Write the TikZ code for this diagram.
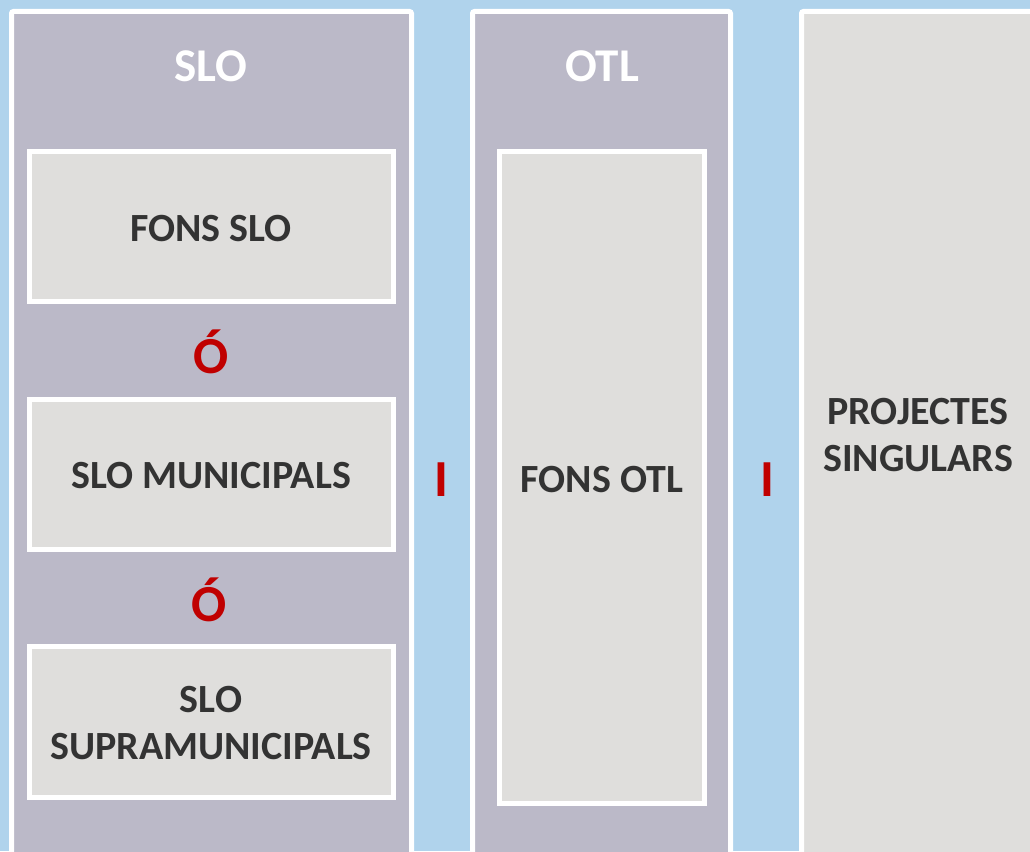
\documentclass[tikz,border=0pt]{standalone}
\usepackage{fontspec}
\setmainfont{Carlito}
\definecolor{bgblue}{HTML}{B0D3EC}
\definecolor{colpurple}{HTML}{BBB9C8}
\definecolor{boxgray}{HTML}{DFDEDC}
\definecolor{txtdark}{HTML}{333333}
\definecolor{redtxt}{HTML}{C00000}
\begin{document}
\begin{tikzpicture}[x=1pt,y=-1pt,
  colbox/.style={draw=white, line width=5pt, fill=colpurple, rounded corners=2pt, inner sep=0pt, anchor=center},
  sidebox/.style={draw=white, line width=5pt, fill=boxgray, rounded corners=2pt, inner sep=0pt, anchor=center},
  innerbox/.style={draw=white, line width=5pt, fill=boxgray, inner sep=0pt, anchor=center},
  titletxt/.style={text=white, font=\bfseries\fontsize{47}{52}\selectfont, inner sep=0pt},
  boxtxt/.style={text=txtdark, font=\bfseries\fontsize{40}{47}\selectfont, inner sep=0pt, align=center},
  redop/.style={text=redtxt, font=\bfseries\fontsize{52}{56}\selectfont, inner sep=0pt}]
\useasboundingbox (0,0) rectangle (1030,851);
\clip (0,0) rectangle (1030,851);
\fill[bgblue] (0,0) rectangle (1030,851);
\node[colbox, minimum width=400pt, minimum height=888.5pt] (slo) at (211.5,455.75) {};
\node[colbox, minimum width=258pt, minimum height=888.5pt] (otl) at (601.5,455.75) {};
\node[sidebox, minimum width=298.5pt, minimum height=888.5pt] (proj) at (950.75,455.75) {};
\node[innerbox, minimum width=364pt, minimum height=150pt] (fonsslo) at (211.5,226.5) {};
\node[innerbox, minimum width=364pt, minimum height=150pt] (mun) at (211.5,474.5) {};
\node[innerbox, minimum width=364pt, minimum height=151pt] (supra) at (211.5,722) {};
\node[innerbox, minimum width=205pt, minimum height=652pt] (fonsotl) at (602,477.5) {};
\node[titletxt] (slot) at (211,66) {SLO};
\node[titletxt] (otlt) at (602,66) {OTL};
\node[boxtxt] (fonsslot) at (211,229) {FONS SLO};
\node[boxtxt] (munt) at (211,476) {SLO MUNICIPALS};
\node[boxtxt] (suprat) at (211,723) {SLO\\SUPRAMUNICIPALS};
\node[boxtxt] (fonsotlt) at (602,480) {FONS OTL};
\node[boxtxt] (projt) at (918,435) {PROJECTES\\SINGULARS};
\node[redop] (o1) at (211,352) {Ó};
\node[redop] (o2) at (209,600) {Ó};
\node[redop] (i1) at (441,480) {I};
\node[redop] (i2) at (767,480) {I};
\end{tikzpicture}
\end{document}
